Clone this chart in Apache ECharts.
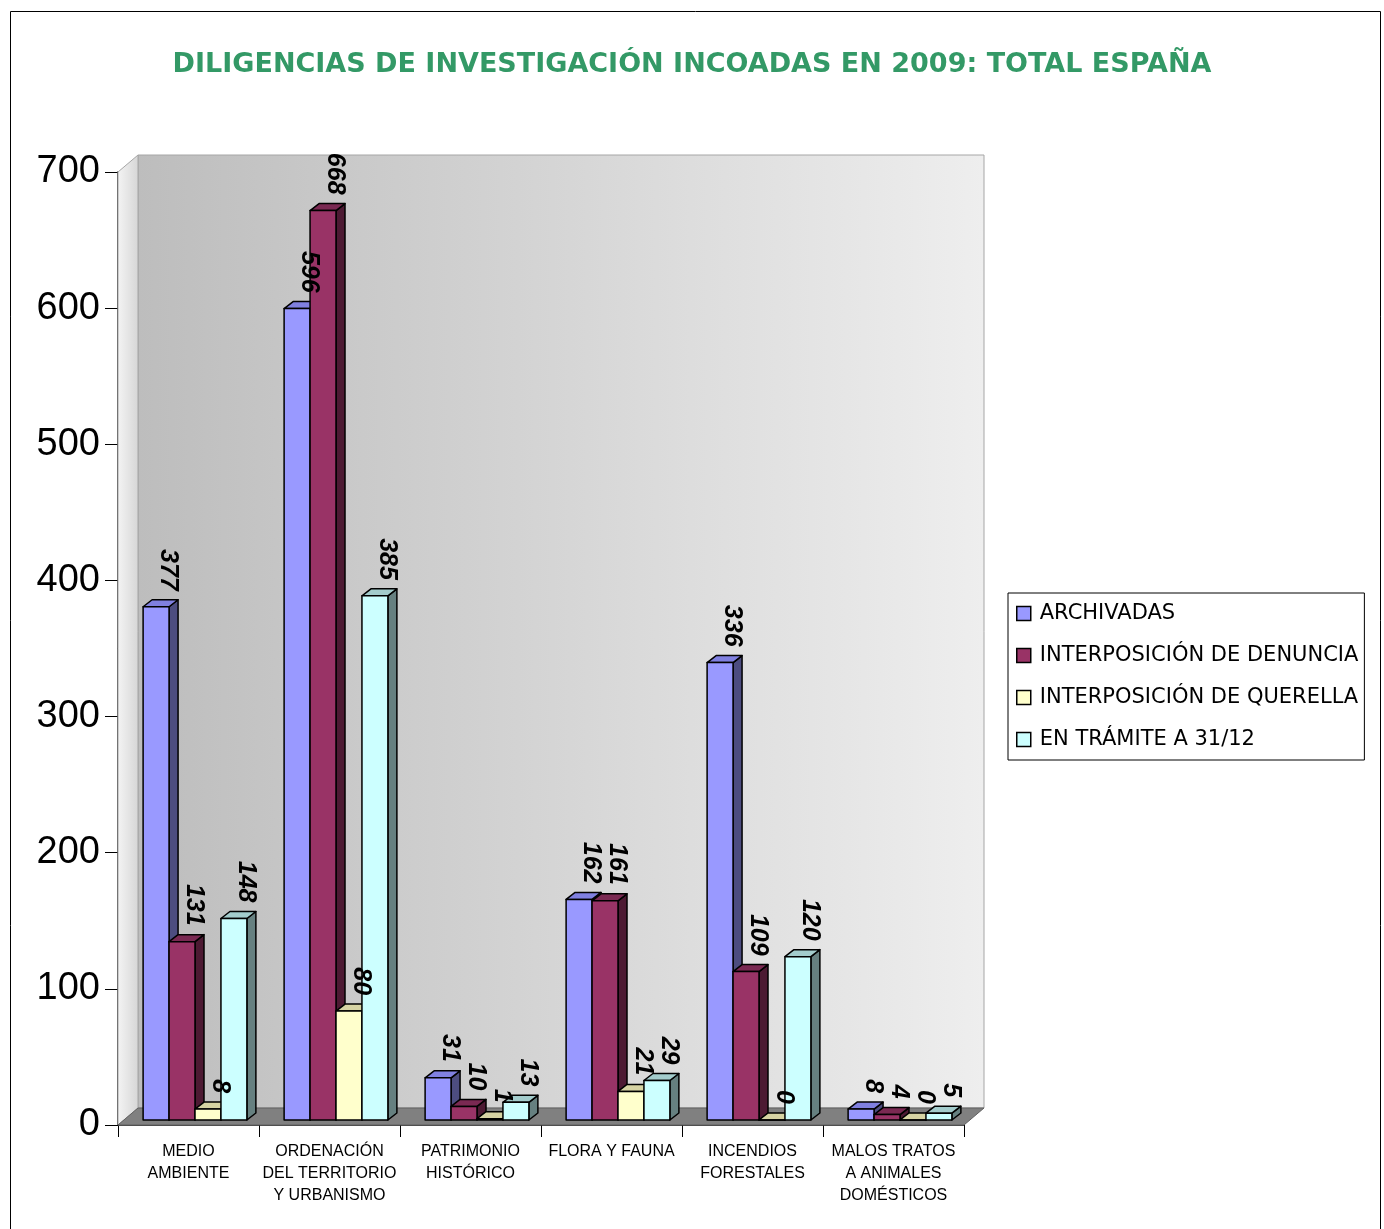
<!DOCTYPE html>
<html><head><meta charset="utf-8">
<script src="https://cdn.jsdelivr.net/npm/echarts@6/dist/echarts.min.js"></script>
<style>html,body{margin:0;padding:0;background:#fff;}#c{width:1384px;height:1229px;}</style>
</head><body><div id="c"></div>
<script>
const categories = ['MEDIO\nAMBIENTE','ORDENACIÓN\nDEL TERRITORIO\nY URBANISMO','PATRIMONIO\nHISTÓRICO','FLORA Y FAUNA','INCENDIOS\nFORESTALES','MALOS TRATOS\nA ANIMALES\nDOMÉSTICOS'];
const seriesNames = ['ARCHIVADAS','INTERPOSICIÓN DE DENUNCIA','INTERPOSICIÓN DE QUERELLA','EN TRÁMITE A 31/12'];
const archivadas = [377,596,31,162,336,8];
const denuncia   = [131,668,10,161,109,4];
const querella   = [8,80,1,21,0,0];
const tramite    = [148,385,13,29,120,5];
const yTicks = [0,100,200,300,400,500,600,700];

const seriesValues = [archivadas, denuncia, querella, tramite];
const faceColors = [
  {front:'#9999ff', top:'#8080e0', side:'#4d4d80'},
  {front:'#993366', top:'#7a2952', side:'#4d1a33'},
  {front:'#ffffcc', top:'#d6d3a3', side:'#808066'},
  {front:'#ccffff', top:'#a3cccc', side:'#668080'}
];

const DX = 9, DY = -7;
function barRender(si){
  return function(params, api){
    const c = api.value(0), v = api.value(1);
    const p0 = api.coord([c, 0]);
    const base = p0[1] - 5;
    const top = api.coord([c, v])[1] - 5;
    const band = api.size([1, 0])[0];
    const bw = band * 0.184;
    const x0 = p0[0] - 2 * bw + si * bw + 6.5;
    const x1 = x0 + bw;
    const col = faceColors[si];
    const ls = {stroke:'#000', lineWidth:1.5, lineJoin:'round'};
    return {type:'group', children:[
      {type:'polygon', shape:{points:[[x1,top],[x1+DX,top+DY],[x1+DX,base+DY],[x1,base]]}, style:Object.assign({fill:col.side}, ls)},
      {type:'polygon', shape:{points:[[x0,top],[x0+DX,top+DY],[x1+DX,top+DY],[x1,top]]}, style:Object.assign({fill:col.top}, ls)},
      {type:'rect', shape:{x:x0, y:top, width:bw, height:Math.max(base-top,0)}, style:Object.assign({fill:col.front}, ls)},
      {type:'text', x:x0 + bw/2 + 12, y:top - 16, rotation:-Math.PI/2, z2:10,
        style:{text:String(v), font:'italic bold 25px "Liberation Sans", Arial, sans-serif', fill:'#000', align:'right', verticalAlign:'middle'}}
    ]};
  };
}

function wallRender(params, api){
  const cs = params.coordSys;
  const x = cs.x, y = cs.y, w = cs.width, h = cs.height;
  const dx = 20, dy = -17;
  return {type:'group', children:[
    {type:'polygon', shape:{points:[[x+dx,y+dy],[x+w+dx,y+dy],[x+w+dx,y+h+dy],[x+dx,y+h+dy]]},
      style:{fill:new echarts.graphic.LinearGradient(0,0,1,0,[{offset:0,color:'#bdbdbd'},{offset:1,color:'#eeeeee'}]), stroke:'#a6a6a6', lineWidth:1}},
    {type:'polygon', shape:{points:[[x,y],[x+dx,y+dy],[x+dx,y+h+dy],[x,y+h]]},
      style:{fill:new echarts.graphic.LinearGradient(0,0,1,0,[{offset:0,color:'#f4f4f4'},{offset:1,color:'#d6d6d6'}]), stroke:'#a6a6a6', lineWidth:1}},
    {type:'polygon', shape:{points:[[x,y+h],[x+dx,y+h+dy],[x+w+dx,y+h+dy],[x+w,y+h]]},
      style:{fill:'#808080', stroke:'#606060', lineWidth:1}}
  ]};
}

const chart = echarts.init(document.getElementById('c'), null, {renderer:'canvas'});
const series = [{
  type:'custom', name:'walls', renderItem:wallRender, data:[[0,0]], z:1, silent:true
}];
seriesValues.forEach((vals, si) => {
  series.push({
    type:'custom', name:seriesNames[si], renderItem:barRender(si), z:3,
    itemStyle:{color:faceColors[si].front, borderColor:'#000', borderWidth:1.5},
    data: vals.map((v, ci) => [ci, v])
  });
});

chart.setOption({
  backgroundColor:'#fff',
  animation:false,
  title:{
    text:'DILIGENCIAS DE INVESTIGACIÓN INCOADAS EN 2009: TOTAL ESPAÑA',
    left:'center', top:46,
    textStyle:{color:'#339966', fontSize:27, fontWeight:900, fontFamily:'"DejaVu Sans", sans-serif'}
  },
  legend:{
    orient:'vertical', left:1008, top:593,
    data:seriesNames,
    icon:'rect', itemWidth:14, itemHeight:14, itemGap:21,
    padding:[10,6,10,8],
    borderColor:'#000', borderWidth:1, backgroundColor:'#fff',
    itemStyle:{borderColor:'#000', borderWidth:1.5},
    textStyle:{fontSize:21, lineHeight:21, color:'#000', fontFamily:'"DejaVu Sans", sans-serif', padding:[0,0,0,4]}
  },
  grid:{left:118, right:420, top:172, bottom:104, containLabel:false},
  xAxis:{
    type:'category', data:categories, boundaryGap:true,
    axisLine:{show:true, lineStyle:{color:'#000', width:1.5}},
    axisTick:{show:true, inside:false, length:12, alignWithLabel:false, lineStyle:{color:'#000'}},
    axisLabel:{interval:0, margin:16, fontSize:16, lineHeight:22, color:'#000', fontFamily:'"Liberation Sans", Arial, sans-serif'}
  },
  yAxis:{
    type:'value', min:0, max:700, interval:100,
    axisLine:{show:true, lineStyle:{color:'#000', width:1.5}},
    axisTick:{show:true, length:13, lineStyle:{color:'#000'}},
    splitLine:{show:false},
    axisLabel:{fontSize:38, color:'#000', margin:18, fontFamily:'"Liberation Sans", Arial, sans-serif',
      formatter:function(v){ return yTicks.indexOf(v) >= 0 ? String(v) : ''; }}
  },
  graphic:[{type:'rect', left:8, top:9, shape:{width:1370, height:1240}, style:{fill:'none', stroke:'#000', lineWidth:1}, silent:true}],
  series:series
});
</script>
</body></html>
